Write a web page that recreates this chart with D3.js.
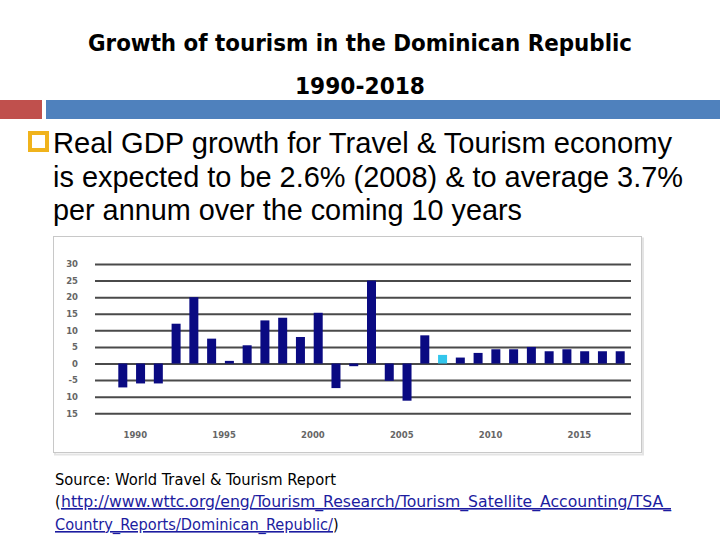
<!DOCTYPE html>
<html><head><meta charset="utf-8">
<script src="https://cdn.jsdelivr.net/npm/d3@7"></script>
<style>html,body{margin:0;padding:0;background:#fff}svg{display:block}</style>
</head><body>
<svg id="c" width="720" height="540"></svg>
<script>
const years = [1990,1991,1992,1993,1994,1995,1996,1997,1998,1999,2000,2001,2002,2003,2004,2005,2006,2007,2008,2009,2010,2011,2012,2013,2014,2015,2016,2017,2018];
const growth = [-7.2,-6.0,-6.0,12.0,20.0,7.5,0.8,5.5,13.0,13.8,8.0,15.3,-7.4,-0.8,25.0,-5.2,-11.2,8.5,2.6,1.8,3.2,4.3,4.3,5.0,3.7,4.3,3.7,3.7,3.7];
const highlightYear = 2008;
const yTickValues = [30,25,20,15,10,5,0,-5,-10,-15];
const yTickLabels = ["30","25","20","15","10","5","0","-5","10","15"];
const xTickYears = [1990,1995,2000,2005,2010,2015];
const titleLines = ["Growth of tourism in the Dominican Republic","1990-2018"];
const bulletLines = ["Real GDP growth for Travel & Tourism economy","is expected to be 2.6% (2008) & to average 3.7%","per annum over the coming 10 years"];

const svg = d3.select("#c");

// header bars
svg.append("rect").attr("x",0).attr("y",100).attr("width",42).attr("height",19).attr("fill","#c0504d");
svg.append("rect").attr("x",46).attr("y",100).attr("width",674).attr("height",19).attr("fill","#4f81bd");

// title
const titleFont = "'DejaVu Sans Condensed','DejaVu Sans',sans-serif";
svg.append("text").attr("x",360).attr("y",51).attr("text-anchor","middle")
  .attr("font-family",titleFont).attr("font-weight","bold").attr("font-size",23)
  .attr("textLength",544).attr("lengthAdjust","spacingAndGlyphs").attr("fill","#000").text(titleLines[0]);
svg.append("text").attr("x",360).attr("y",94).attr("text-anchor","middle")
  .attr("font-family",titleFont).attr("font-weight","bold").attr("font-size",23)
  .attr("textLength",130).attr("lengthAdjust","spacingAndGlyphs").attr("fill","#000").text(titleLines[1]);

// bullet
svg.append("rect").attr("x",30).attr("y",133).attr("width",17).attr("height",17)
  .attr("fill","none").attr("stroke","#f0b31c").attr("stroke-width",4);
const bulletW = [619,630,469];
const bulletY = [153,187,220];
bulletLines.forEach((t,i)=>{
  svg.append("text").attr("x",53).attr("y",bulletY[i])
    .attr("font-family","'Liberation Sans',Arial,sans-serif").attr("font-size",29.5)
    .attr("textLength",bulletW[i]).attr("lengthAdjust","spacingAndGlyphs").attr("fill","#000").text(t);
});

// chart frame
svg.append("rect").attr("x",55).attr("y",238.5).attr("width",588).attr("height",216).attr("fill","none").attr("stroke","#e4e4e4").attr("stroke-width",2);
svg.append("rect").attr("x",53.5).attr("y",236.5).attr("width",588).attr("height",216).attr("fill","#fff").attr("stroke","#c8c8c8").attr("stroke-width",1);

const y = d3.scaleLinear().domain([-15,30]).range([413.3,264]);
const x = d3.scalePoint().domain(years).range([122.8,620.2]);
const barW = 9;

// gridlines via axis
const yAxis = d3.axisLeft(y).tickValues(yTickValues).tickSize(-536).tickFormat((d,i)=>yTickLabels[i]);
const gy = svg.append("g").attr("transform","translate(95,0)").call(yAxis);
gy.select(".domain").remove();
gy.selectAll(".tick line").attr("stroke","#4a4a4a").attr("stroke-width",2);
gy.selectAll(".tick text").attr("x",-17).attr("font-family","'DejaVu Sans',sans-serif").attr("font-weight","bold")
  .attr("font-size",8.5).attr("fill","#666");

// bars
svg.append("g").selectAll("rect").data(years).join("rect")
  .attr("x",d=>x(d)-barW/2)
  .attr("y",(d,i)=>y(Math.max(0,growth[i])))
  .attr("width",barW)
  .attr("height",(d,i)=>Math.abs(y(growth[i])-y(0)))
  .attr("fill",d=>d===highlightYear?"#33c6ec":"#0a0a82");

// x axis labels
const xAxis = d3.axisBottom(x).tickValues(xTickYears).tickSize(0).tickFormat(d=>String(d));
const gx = svg.append("g").attr("transform","translate(12,429)").call(xAxis);
gx.select(".domain").remove();
gx.selectAll(".tick text").attr("font-family","'DejaVu Sans',sans-serif").attr("font-weight","bold")
  .attr("font-size",8.5).attr("fill","#666");

// source
const srcFont = "'DejaVu Sans Condensed','DejaVu Sans',sans-serif";
svg.append("text").attr("x",55).attr("y",485).attr("font-family",srcFont).attr("font-size",16)
  .attr("textLength",281).attr("lengthAdjust","spacingAndGlyphs").attr("fill","#000")
  .text("Source: World Travel & Tourism Report");
svg.append("text").attr("x",55).attr("y",507).attr("font-family",srcFont).attr("font-size",16).attr("fill","#000").text("(");
svg.append("text").attr("x",61).attr("y",507).attr("font-family",srcFont).attr("font-size",16)
  .attr("textLength",610).attr("lengthAdjust","spacingAndGlyphs").attr("fill","#1c1ca0").attr("text-decoration","underline")
  .text("http://www.wttc.org/eng/Tourism_Research/Tourism_Satellite_Accounting/TSA_");
svg.append("text").attr("x",55).attr("y",530).attr("font-family",srcFont).attr("font-size",16)
  .attr("textLength",278).attr("lengthAdjust","spacingAndGlyphs").attr("fill","#1c1ca0").attr("text-decoration","underline")
  .text("Country_Reports/Dominican_Republic/");
svg.append("text").attr("x",333).attr("y",530).attr("font-family",srcFont).attr("font-size",16).attr("fill","#000").text(")");
</script>
</body></html>
